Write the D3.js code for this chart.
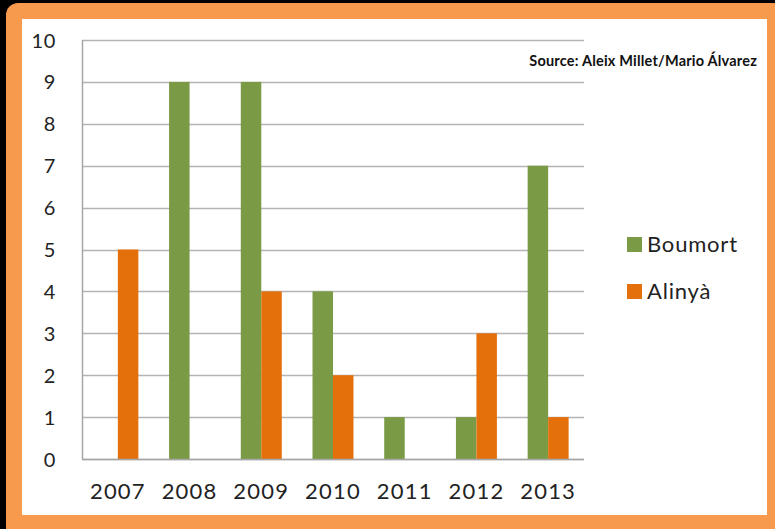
<!DOCTYPE html>
<html><head><meta charset="utf-8">
<script src="https://cdn.jsdelivr.net/npm/d3@7"></script>
<style>html,body{margin:0;padding:0;background:#000;overflow:hidden}</style>
</head><body>
<script>
const years = ["2007","2008","2009","2010","2011","2012","2013"];
const boumort = [0,9,9,4,1,1,7];
const alinya = [5,0,4,2,0,3,1];
const seriesNames = ["Boumort","Alinyà"];
const seriesColors = ["#7A9A45","#E4700C"];
const yTicks = [0,1,2,3,4,5,6,7,8,9,10];
const sourceText = "Source: Aleix Millet/Mario Álvarez";

const W=775,H=529;
const svg=d3.select("body").append("svg").attr("width",W).attr("height",H);
svg.append("rect").attr("width",W).attr("height",H).attr("fill","#000");
svg.append("rect").attr("x",6).attr("y",3).attr("width",800).attr("height",560).attr("rx",12).attr("fill","#F79A4E");
svg.append("rect").attr("x",22).attr("y",19).attr("width",745).attr("height",496).attr("fill","#fff");

const m={l:82,t:40,r:584,b:459};
const x=d3.scaleBand().domain(years).range([m.l,m.r]).paddingInner(0).paddingOuter(0);
const y=d3.scaleLinear().domain([0,10]).range([m.b,m.t]);
const font="Lato, 'Open Sans', sans-serif";

// gridlines
svg.append("g").selectAll("line").data(yTicks).join("line")
  .attr("x1",m.l).attr("x2",m.r).attr("y1",d=>Math.round(y(d))+0.5).attr("y2",d=>Math.round(y(d))+0.5)
  .attr("stroke","#b4b4b4").attr("stroke-width",1.5);
svg.append("line").attr("x1",m.l+0.5).attr("x2",m.l+0.5).attr("y1",m.t).attr("y2",m.b)
  .attr("stroke","#a6a6a6").attr("stroke-width",1.5);

const bw=x.bandwidth()/3.5;
const data=[boumort,alinya];
data.forEach((vals,si)=>{
  svg.append("g").selectAll("rect").data(years).join("rect")
    .attr("x",(d)=>x(d)+x.bandwidth()/2-bw+si*bw)
    .attr("width",bw)
    .attr("y",(d,i)=>y(vals[i]))
    .attr("height",(d,i)=>y(0)-y(vals[i]))
    .attr("fill",seriesColors[si]);
});
svg.append("line").attr("x1",m.l).attr("x2",m.r).attr("y1",m.b+0.5).attr("y2",m.b+0.5)
  .attr("stroke","#a6a6a6").attr("stroke-width",1.5);

const ya=svg.append("g").attr("transform",`translate(${m.l-8},0)`)
  .call(d3.axisLeft(y).tickValues(yTicks).tickSize(0).tickPadding(18).tickFormat(d3.format("d")));
ya.select(".domain").remove();
ya.selectAll("text").attr("font-family",font).attr("font-size",20).attr("fill","#222").attr("x",-18).attr("dy","0.35em").attr("letter-spacing",0.6);

const xa=svg.append("g").attr("transform",`translate(0,${m.b})`)
  .call(d3.axisBottom(x).tickSize(0).tickPadding(24));
xa.select(".domain").remove();
xa.selectAll("text").attr("font-family",font).attr("font-size",22).attr("fill","#222").attr("letter-spacing",1.2);

const lg=svg.append("g");
seriesNames.forEach((n,i)=>{
  const yy=244+i*47;
  lg.append("rect").attr("x",627).attr("y",yy-7).attr("width",15).attr("height",15).attr("fill",seriesColors[i]);
  lg.append("text").attr("x",647).attr("y",yy).attr("dy","0.35em").attr("font-family",font).attr("font-size",22).attr("letter-spacing",0.8).attr("fill","#222").text(n);
});

svg.append("text").attr("x",757).attr("y",61).attr("dy","0.35em").attr("text-anchor","end")
  .attr("font-family",font).attr("font-weight","bold").attr("font-size",14.5).attr("letter-spacing",0.2).attr("fill","#111").text(sourceText);
</script>
</body></html>
